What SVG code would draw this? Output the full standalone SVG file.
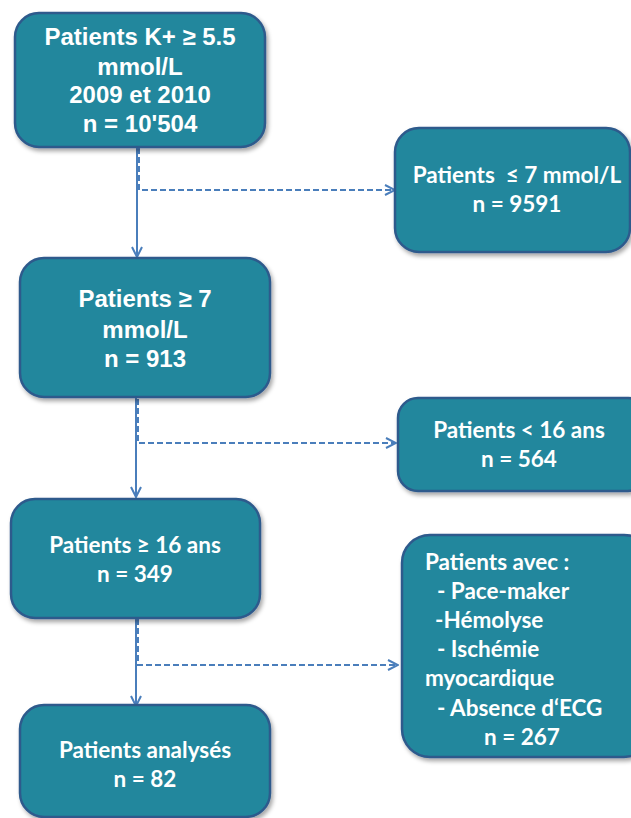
<svg xmlns="http://www.w3.org/2000/svg" width="631" height="818" viewBox="0 0 631 818">
<style>
.box{fill:#21879D;stroke:#2E5A8C;stroke-width:2.5;filter:url(#sh)}
.ta{font-family:"Liberation Sans",Arial,sans-serif;font-weight:bold;font-size:24px;fill:#fff;text-anchor:middle}
.tc{font-family:Lato,"Open Sans",sans-serif;font-weight:bold;font-size:22.5px;fill:#fff;text-anchor:middle}
.tl{font-family:Lato,"Open Sans",sans-serif;font-weight:bold;font-size:22.5px;fill:#fff}
.solid{fill:none;stroke:#4A7EBB;stroke-width:2;marker-end:url(#ah)}
.dash{fill:none;stroke:#4A7EBB;stroke-width:2;stroke-dasharray:6 3;marker-end:url(#ah)}
</style>
<defs>
<filter id="sh" x="-10%" y="-10%" width="130%" height="130%">
<feDropShadow dx="2" dy="3" stdDeviation="2" flood-color="#000" flood-opacity="0.35"/>
</filter>
<marker id="ah" viewBox="0 0 12 12" refX="11" refY="6" markerWidth="12" markerHeight="12" markerUnits="userSpaceOnUse" orient="auto">
<path d="M1,1 L11,6 L1,11" fill="none" stroke="#4A7EBB" stroke-width="2"/>
</marker>
</defs>
<g id="connectors">
<path class="solid" d="M137,147 V257"/>
<path class="dash" d="M139,148 V190 H395"/>
<path class="solid" d="M136,398 V497"/>
<path class="dash" d="M138,399 V443 H396"/>
<path class="solid" d="M136,618 V706"/>
<path class="dash" d="M138,619 V665 H398"/>
</g>
<g id="n1">
<rect class="box" x="15" y="13" width="250" height="134" rx="24"/>
<text class="ta" x="140" y="45">Patients  K+ ≥ 5.5</text>
<text class="ta" x="140" y="75">mmol/L</text>
<text class="ta" x="140" y="103">2009 et 2010</text>
<text class="ta" x="140" y="132">n = 10'504</text>
</g>
<g id="n2">
<rect class="box" x="395" y="128" width="235" height="124" rx="24"/>
<text class="tc" x="517" y="183" xml:space="preserve">Patients  ≤ 7 mmol/L</text>
<text class="tc" x="517" y="212">n = 9591</text>
</g>
<g id="n3">
<rect class="box" x="20" y="258" width="250" height="139" rx="24"/>
<text class="ta" x="145" y="307">Patients  ≥ 7</text>
<text class="ta" x="145" y="338">mmol/L</text>
<text class="ta" x="145" y="367">n = 913</text>
</g>
<g id="n4">
<rect class="box" x="398" y="398" width="250" height="93" rx="20"/>
<text class="tc" x="519" y="438">Patients &lt; 16 ans</text>
<text class="tc" x="519" y="467">n = 564</text>
</g>
<g id="n5">
<rect class="box" x="11" y="499" width="249" height="119" rx="24"/>
<text class="tc" x="135" y="553">Patients ≥ 16 ans</text>
<text class="tc" x="135" y="582">n = 349</text>
</g>
<g id="n6">
<rect class="box" x="402" y="535" width="250" height="222" rx="28"/>
<text class="tl" x="425" y="570">Patients avec :</text>
<text class="tl" x="437" y="599">- Pace-maker</text>
<text class="tl" x="435" y="628">-Hémolyse</text>
<text class="tl" x="437" y="657">- Ischémie</text>
<text class="tl" x="425" y="686">myocardique</text>
<text class="tl" x="437" y="716">- Absence d‘ECG</text>
<text class="tl" x="484" y="745">n = 267</text>
</g>
<g id="n7">
<rect class="box" x="20" y="705" width="250" height="112" rx="24"/>
<text class="tc" x="145" y="758">Patients analysés</text>
<text class="tc" x="145" y="787">n = 82</text>
</g>
</svg>
